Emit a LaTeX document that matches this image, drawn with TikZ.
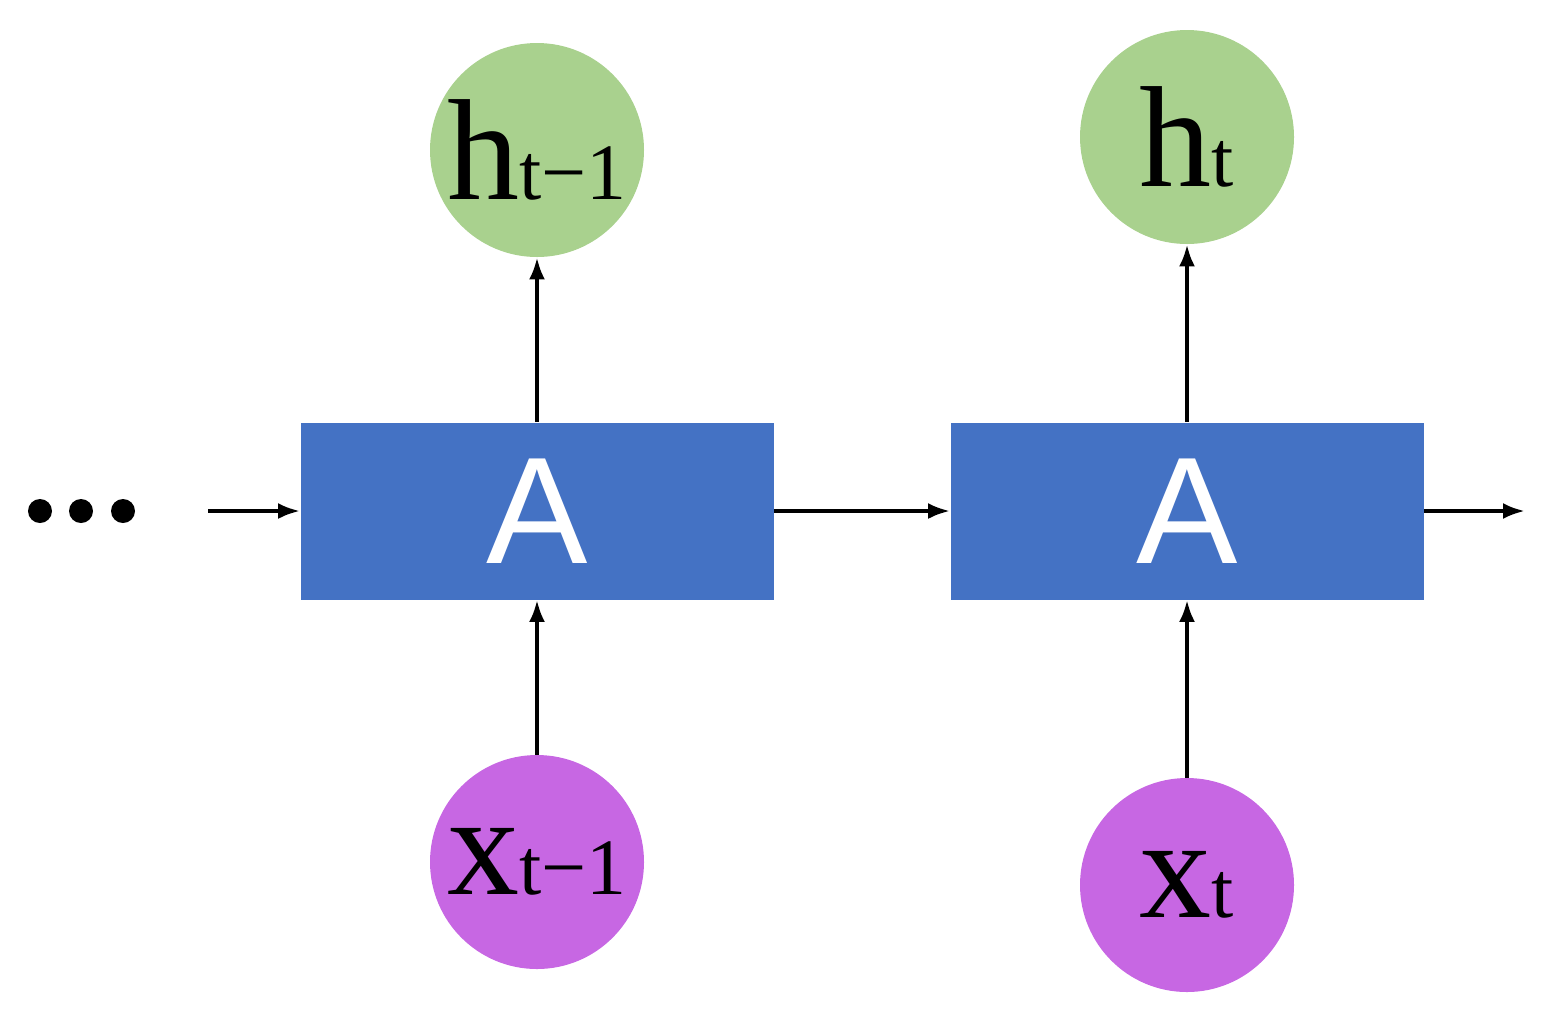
\documentclass[tikz,border=0pt]{standalone}
\usepackage{fontspec}
\setmainfont{Liberation Serif}
\newfontfamily\asans{Liberation Sans}
\usetikzlibrary{arrows.meta}
\definecolor{boxblue}{HTML}{4472C4}
\definecolor{hgreen}{HTML}{A9D18E}
\definecolor{xpurple}{HTML}{C767E3}
\begin{document}
\begin{tikzpicture}[x=0.5pt,y=-0.5pt,
  cell/.style={fill=boxblue,minimum width=236.5pt,minimum height=88.5pt,inner sep=0,text=white,font=\asans\fontsize{76}{76}\selectfont},
  hnode/.style={circle,fill=hgreen,minimum size=107pt,inner sep=0},
  xnode/.style={circle,fill=xpurple,minimum size=107pt,inner sep=0},
  arr/.style={-{Latex[length=11pt,width=8pt]},line width=2pt}]
\useasboundingbox (0,0) rectangle (1550,1014);
\newcommand{\sublbl}[2]{{\fontsize{72}{72}\selectfont #1}{\fontsize{40}{40}\selectfont #2}}
\node[cell] (a1) at (537,511) {A};
\node[cell] (a2) at (1187,511) {A};
\node[hnode] (h1) at (537,150) {\sublbl{h}{t−1}};
\node[hnode] (h2) at (1187,137) {\sublbl{h}{t}};
\node[xnode] (x1) at (537,862) {\sublbl{x}{t−1}};
\node[xnode] (x2) at (1187,885) {\sublbl{x}{t}};
\coordinate (s) at (208,511);
\coordinate (e) at (1525,511);
\foreach \i in {40,81,123} \fill (\i,511) circle (6pt);
\draw[arr] (s) -- (a1.west);
\draw[arr] (a1.east) -- (a2.west);
\draw[arr] (a2.east) -- (e);
\draw[arr] (a1.north) -- (h1.south);
\draw[arr] (a2.north) -- (h2.south);
\draw[arr] (x1.north) -- (a1.south);
\draw[arr] (x2.north) -- (a2.south);
\end{tikzpicture}
\end{document}
